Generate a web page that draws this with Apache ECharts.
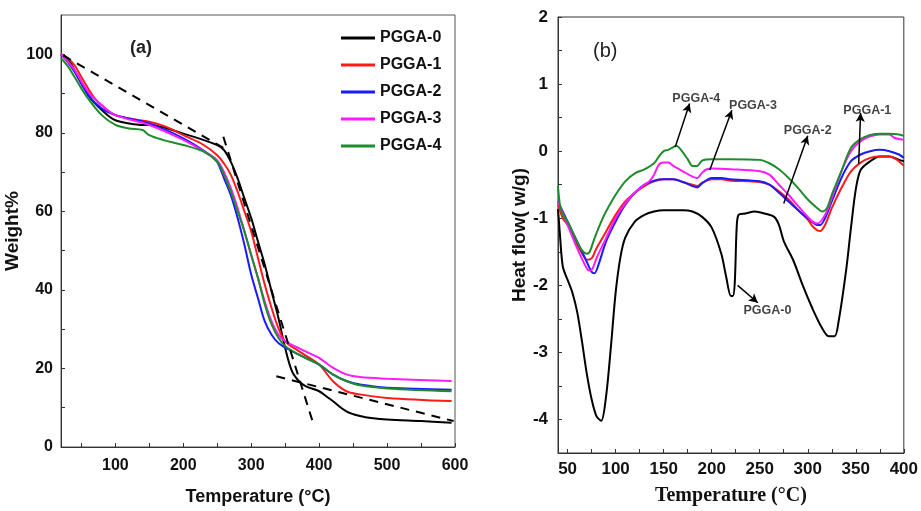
<!DOCTYPE html>
<html><head><meta charset="utf-8">
<script src="https://cdn.jsdelivr.net/npm/echarts@6/dist/echarts.min.js"></script>
<style>html,body{margin:0;padding:0;background:#fff}#c{width:921px;height:511px}</style>
</head><body><div id="c"></div>
<script>
// ---------- (a) TGA data ----------
const tgaNames = ['PGGA-0','PGGA-1','PGGA-2','PGGA-3','PGGA-4'];
const tga0 = [[20,100],[30,98.9],[40,96],[50,93],[60,89.6],[70,87.5],[80,85.8],[90,84.3],[100,83.2],[120,82.4],[140,82],[150,82],[200,79.8],[250,76.9],[260,75.6],[270,72.6],[280,68.4],[290,63.3],[300,58.3],[310,52.3],[320,46.4],[330,39.6],[340,32.9],[350,25.2],[360,19.3],[370,16.8],[380,15.5],[400,14.2],[410,13],[420,11.7],[440,9.1],[460,7.9],[480,7.3],[500,7.0],[550,6.6],[595,6.2]];
const tga1 = [[20,100],[30,99],[40,97.2],[50,94.2],[60,91.3],[70,88.7],[80,87],[100,84.5],[150,82.8],[175,81.5],[200,79.4],[230,76.9],[250,74.3],[260,72.2],[270,69.3],[280,65],[290,60],[300,54.9],[310,48.1],[320,41.3],[330,35.4],[340,30.3],[350,26.9],[370,24.4],[400,21],[420,16.8],[440,14.2],[460,13.4],[500,12.5],[595,11.7]];
const tga2 = [[20,100],[30,98],[40,95.5],[60,89.6],[80,86.2],[100,84.5],[150,82.4],[200,78.6],[240,74.3],[250,72.6],[260,68.4],[270,64.1],[280,58.3],[290,51.5],[300,43.9],[310,37.9],[320,32],[330,28.6],[340,26.5],[360,24.4],[380,22.7],[400,21],[420,18.5],[440,16.8],[460,15.9],[500,15.1],[595,14.6]];
const tga3 = [[20,100],[30,98.2],[40,96],[60,90.4],[80,87],[100,84.5],[150,82],[200,78.2],[240,74.3],[250,73],[260,70],[270,65.9],[280,60.8],[290,54.9],[300,48.9],[310,43],[320,37],[330,32],[340,28.6],[350,26.9],[370,25.2],[390,23.5],[400,22.7],[420,20.2],[440,18.5],[460,17.8],[500,17.4],[595,16.8]];
const tga4 = [[20,99],[30,97],[40,94.2],[50,91.3],[60,88.7],[80,84.5],[100,82],[120,81.1],[140,80.7],[150,79.4],[170,78.2],[200,76.9],[230,75.2],[250,72.6],[260,69.3],[270,65],[280,60],[290,54.9],[300,48.9],[310,43],[320,36.3],[330,31.2],[340,27.8],[350,25.7],[370,23.5],[400,21],[420,18.5],[440,16.8],[460,15.7],[500,14.9],[595,14.2]];
const tangent1 = [[23,99.7],[265,75.6]];
const tangent2 = [[259,79],[392,5.6]];
const tangent3 = [[337,18],[598,6.6]];
const tgaXLabels = [100,200,300,400,500,600];
const tgaXTicks = [50,100,150,200,250,300,350,400,450,500,550,600];
const tgaYLabels = [0,20,40,60,80,100];
const tgaYTicks = [0,10,20,30,40,50,60,70,80,90,100];

// ---------- (b) DSC data ----------
const dsc0 = [[40,-0.86],[42,-1.24],[45,-1.72],[50,-1.92],[55,-2.11],[60,-2.4],[65,-2.84],[70,-3.32],[75,-3.7],[80,-3.95],[85,-4.02],[90,-3.66],[95,-2.93],[100,-2.11],[105,-1.58],[110,-1.29],[120,-1.05],[130,-0.95],[140,-0.9],[150,-0.88],[170,-0.88],[180,-0.9],[190,-0.98],[200,-1.14],[210,-1.53],[215,-1.87],[220,-2.16],[222,-2.16],[224,-1.97],[226,-1.14],[228,-0.95],[235,-0.93],[245,-0.9],[255,-0.93],[265,-0.98],[270,-1.1],[275,-1.34],[285,-1.63],[295,-2.01],[305,-2.35],[315,-2.64],[322,-2.76],[328,-2.76],[332,-2.55],[340,-1.77],[345,-1.14],[350,-0.57],[355,-0.28],[365,-0.15],[375,-0.08],[385,-0.08],[395,-0.13],[400,-0.15]];
const dsc1 = [[40,-0.8],[45,-1.0],[50,-1.1],[55,-1.25],[60,-1.4],[65,-1.52],[70,-1.62],[75,-1.6],[80,-1.45],[90,-1.2],[100,-0.95],[110,-0.75],[120,-0.62],[130,-0.52],[140,-0.45],[150,-0.42],[160,-0.42],[170,-0.46],[180,-0.5],[185,-0.52],[190,-0.47],[200,-0.42],[210,-0.42],[220,-0.44],[240,-0.45],[250,-0.46],[260,-0.5],[270,-0.6],[280,-0.72],[290,-0.88],[300,-1.02],[305,-1.12],[310,-1.18],[313,-1.19],[318,-1.1],[325,-0.85],[335,-0.55],[345,-0.3],[355,-0.17],[365,-0.1],[375,-0.08],[385,-0.08],[392,-0.12],[400,-0.22]];
const dsc2 = [[40,-0.75],[50,-1.05],[60,-1.35],[70,-1.65],[75,-1.8],[78,-1.82],[82,-1.7],[90,-1.35],[100,-1.05],[110,-0.8],[120,-0.62],[130,-0.5],[140,-0.44],[150,-0.42],[160,-0.42],[170,-0.46],[180,-0.52],[185,-0.54],[190,-0.48],[200,-0.4],[210,-0.4],[220,-0.42],[250,-0.45],[260,-0.5],[270,-0.62],[280,-0.75],[290,-0.88],[300,-1.0],[310,-1.1],[313,-1.1],[318,-1.0],[325,-0.75],[335,-0.4],[345,-0.15],[355,-0.05],[365,0.0],[375,0.02],[385,0.0],[395,-0.05],[400,-0.1]];
const dsc3 = [[40,-0.75],[50,-1.1],[60,-1.45],[70,-1.75],[73,-1.78],[76,-1.75],[80,-1.6],[90,-1.3],[100,-1.0],[110,-0.78],[120,-0.62],[130,-0.5],[135,-0.45],[140,-0.35],[145,-0.2],[150,-0.17],[155,-0.17],[160,-0.22],[170,-0.3],[180,-0.38],[185,-0.4],[190,-0.32],[195,-0.27],[200,-0.26],[220,-0.27],[250,-0.3],[260,-0.35],[270,-0.5],[280,-0.65],[290,-0.82],[300,-0.98],[305,-1.05],[310,-1.08],[318,-0.95],[325,-0.7],[335,-0.3],[345,0.0],[355,0.15],[365,0.22],[375,0.25],[385,0.25],[390,0.2],[395,0.18],[400,0.17]];
const dsc4 = [[40,-0.52],[42,-0.8],[45,-0.95],[50,-1.05],[55,-1.2],[60,-1.35],[65,-1.48],[70,-1.53],[73,-1.5],[78,-1.3],[85,-1.05],[90,-0.9],[100,-0.65],[110,-0.45],[120,-0.33],[130,-0.27],[140,-0.18],[145,-0.08],[150,0.0],[155,0.02],[160,0.06],[163,0.08],[168,0.02],[175,-0.12],[180,-0.22],[185,-0.22],[190,-0.14],[200,-0.12],[220,-0.12],[250,-0.13],[260,-0.18],[270,-0.27],[280,-0.4],[290,-0.55],[300,-0.72],[310,-0.85],[315,-0.9],[320,-0.85],[325,-0.65],[335,-0.3],[345,0.05],[355,0.18],[365,0.24],[375,0.26],[385,0.26],[395,0.25],[400,0.23]];
// annotation arrows: label, from [x,y], to [x,y], label position [x,y]
const arrowLabels = ['PGGA-4','PGGA-3','PGGA-2','PGGA-1','PGGA-0'];
const arrowFrom = [[162,0.06],[198,-0.28],[275,-0.78],[353,-0.19],[227,-2.0]];
const arrowTo = [[177,0.71],[221,0.61],[300,0.23],[355,0.57],[248,-2.26]];
const labelAt = [[184,0.78],[243,0.68],[300,0.3],[362,0.61],[258,-2.38]];
const dscXLabels = [50,100,150,200,250,300,350,400];
const dscXTicks = [50,75,100,125,150,175,200,225,250,275,300,325,350,375,400];
const dscYLabels = [-4,-3,-2,-1,0,1,2];
const dscYTicks = [-4.5,-4,-3.5,-3,-2.5,-2,-1.5,-1,-0.5,0,0.5,1,1.5,2];

const colors = ['#000000','#ff1a1a','#1a1aff','#ff1aff','#1e8c2a'];
const SANS = 'Liberation Sans, Arial, sans-serif';
const SERIF = 'Liberation Serif, Times New Roman, serif';

const chart = echarts.init(document.getElementById('c'));
const tgaData = [tga0,tga1,tga2,tga3,tga4];
const dscData = [dsc0,dsc1,dsc2,dsc3,dsc4];

function axisCommon(labels, ticks, fs, margin){
  return {
    type:'value',
    axisLine:{show:true,onZero:false,lineStyle:{color:'#333',width:1}},
    axisTick:{show:true,inside:true,length:4,customValues:ticks,lineStyle:{color:'#333'}},
    axisLabel:{customValues:labels,fontFamily:SANS,fontWeight:'bold',fontSize:fs,color:'#111',margin:margin},
    splitLine:{show:false}
  };
}

const series = [];
tgaData.forEach((d,i)=>series.push({name:tgaNames[i],type:'line',xAxisIndex:0,yAxisIndex:0,data:d,showSymbol:false,smooth:0.35,lineStyle:{color:colors[i],width:2},itemStyle:{color:colors[i]},z:3}));
[tangent1,tangent2,tangent3].forEach(d=>series.push({type:'line',xAxisIndex:0,yAxisIndex:0,data:d,showSymbol:false,lineStyle:{color:'#000',width:2,type:[9,7]},z:4,silent:true}));
dscData.forEach((d,i)=>series.push({name:tgaNames[i],type:'line',xAxisIndex:1,yAxisIndex:1,data:d,showSymbol:false,smooth:0.3,lineStyle:{color:colors[i],width:2},itemStyle:{color:colors[i]},z:3}));
series.push({type:'line',xAxisIndex:1,yAxisIndex:1,data:[],silent:true,
  markLine:{silent:true,symbol:['none','arrow'],symbolSize:[7,9],animation:false,
    lineStyle:{color:'#000',width:1.5,type:'solid'},label:{show:false},
    data:arrowFrom.map((f,i)=>[{coord:f},{coord:arrowTo[i]}])}});
series.push({type:'scatter',xAxisIndex:1,yAxisIndex:1,symbolSize:0,silent:true,
  data:labelAt.map((p,i)=>({value:p,name:arrowLabels[i]})),
  label:{show:true,position:'inside',formatter:p=>p.name,fontFamily:SANS,fontWeight:'bold',fontSize:12.5,color:'#111'}});

chart.setOption({
  animation:false,
  grid:[
    {left:61,right:466,top:15,bottom:62,show:true,borderColor:'#555',borderWidth:1},
    {left:558,right:17,top:17,bottom:48,show:true,borderColor:'#333',borderWidth:1}
  ],
  legend:{data:tgaNames,orient:'vertical',left:336,top:25,itemWidth:34,itemHeight:3,itemGap:11,icon:'rect',
    textStyle:{fontFamily:SANS,fontWeight:'bold',fontSize:16,color:'#111',lineHeight:16}},
  xAxis:[
    Object.assign(axisCommon(tgaXLabels,tgaXTicks,16,11),{gridIndex:0,min:20,max:600,
      name:'Temperature (°C)',nameLocation:'middle',nameGap:41,nameTextStyle:{fontFamily:SANS,fontWeight:'bold',fontSize:18,color:'#111'}}),
    Object.assign(axisCommon(dscXLabels,dscXTicks,17,8),{gridIndex:1,min:40,max:400,
      name:'Temperature (°C)',nameLocation:'middle',nameGap:33,nameTextStyle:{fontFamily:SERIF,fontWeight:'bold',fontSize:20,color:'#111'}})
  ],
  yAxis:[
    Object.assign(axisCommon(tgaYLabels,tgaYTicks,16,8),{gridIndex:0,min:0,max:110,
      name:'Weight%',nameLocation:'middle',nameGap:24,nameTextStyle:{fontFamily:SANS,fontWeight:'bold',fontSize:19,color:'#111'}}),
    Object.assign(axisCommon(dscYLabels,dscYTicks,17,10),{gridIndex:1,min:-4.5,max:2,
      name:'Heat flow( w/g)',nameLocation:'middle',nameGap:23,nameTextStyle:{fontFamily:SANS,fontWeight:'bold',fontSize:19,color:'#111'}})
  ],
  graphic:[
    {type:'text',left:130,top:39,style:{text:'(a)',font:'bold 18px Liberation Sans, Arial, sans-serif',fill:'#222'}},
    {type:'text',left:593,top:41,style:{text:'(b)',font:'20px Liberation Sans, Arial, sans-serif',fill:'#222'}}
  ],
  series:series
});
</script></body></html>
